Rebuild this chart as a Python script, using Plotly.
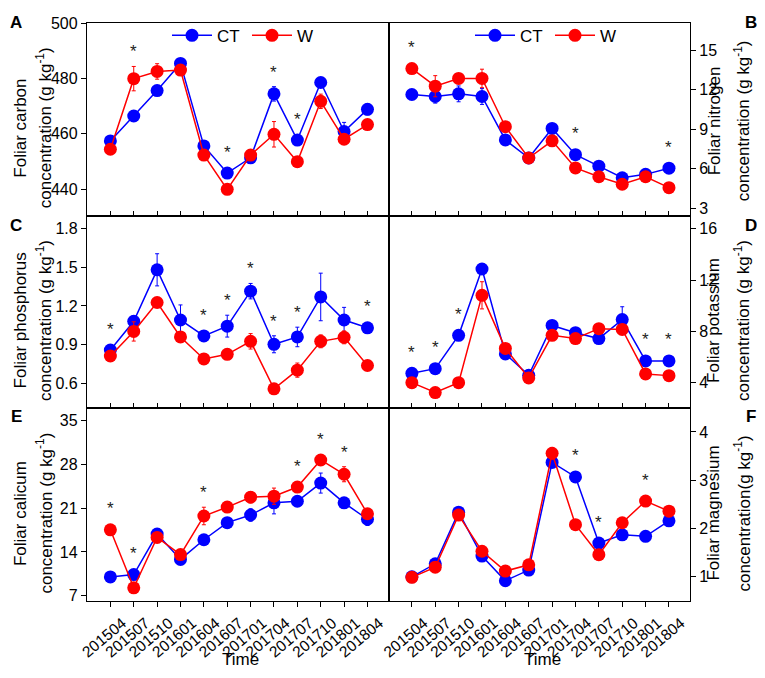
import plotly.graph_objects as go
from plotly.subplots import make_subplots

# ---------------- data ----------------
times = ["201504", "201507", "201510", "201601", "201604", "201607",
         "201701", "201704", "201707", "201710", "201801", "201804"]

carbon_ct = [457.4, 466.4, 475.6, 485.4, 455.6, 445.8, 451.3, 474.4, 457.7, 478.5, 460.8, 468.8]
carbon_ct_err = [1.0, 1.2, 1.5, 1.0, 1.2, 0.8, 1.0, 2.6, 1.0, 1.2, 3.3, 2.0]
carbon_w = [454.4, 479.9, 482.5, 483.0, 452.3, 439.9, 452.3, 459.8, 449.9, 471.7, 458.0, 463.3]
carbon_w_err = [1.0, 4.4, 2.8, 1.2, 1.0, 1.0, 1.0, 4.6, 1.0, 2.6, 1.5, 1.0]
carbon_sig = [1, 5, 7, 8]

nitrogen_ct = [11.63, 11.48, 11.68, 11.48, 8.19, 6.82, 9.06, 7.07, 6.20, 5.32, 5.58, 6.05]
nitrogen_ct_err = [0.2, 0.5, 0.6, 0.6, 0.3, 0.2, 0.2, 0.2, 0.2, 0.2, 0.2, 0.2]
nitrogen_w = [13.60, 12.26, 12.85, 12.85, 9.19, 6.82, 8.12, 6.07, 5.40, 4.83, 5.40, 4.57]
nitrogen_w_err = [0.2, 0.8, 0.3, 0.7, 0.2, 0.3, 0.2, 0.2, 0.2, 0.2, 0.2, 0.2]
nitrogen_sig = [0, 7, 11]

phosphorus_ct = [0.857, 1.081, 1.481, 1.091, 0.967, 1.043, 1.315, 0.902, 0.959, 1.270, 1.091, 1.030]
phosphorus_ct_err = [0.03, 0.04, 0.125, 0.117, 0.03, 0.085, 0.06, 0.066, 0.076, 0.185, 0.098, 0.03]
phosphorus_w = [0.811, 1.002, 1.227, 0.959, 0.788, 0.824, 0.925, 0.556, 0.701, 0.925, 0.956, 0.737]
phosphorus_w_err = [0.02, 0.075, 0.03, 0.03, 0.02, 0.03, 0.06, 0.02, 0.055, 0.05, 0.05, 0.02]
phosphorus_sig = [0, 4, 5, 6, 7, 8, 11]

potassium_ct = [4.73, 5.09, 7.69, 12.86, 6.24, 4.58, 8.46, 7.90, 7.44, 8.92, 5.70, 5.70]
potassium_ct_err = [0.2, 0.2, 0.3, 0.3, 0.3, 0.3, 0.3, 0.2, 0.2, 1.0, 0.2, 0.2]
potassium_w = [4.00, 3.23, 4.00, 10.81, 6.67, 4.37, 7.69, 7.44, 8.21, 8.15, 4.68, 4.55]
potassium_w_err = [0.2, 0.2, 0.2, 1.06, 0.3, 0.3, 0.4, 0.2, 0.2, 0.3, 0.2, 0.2]
potassium_sig = [0, 1, 2, 10, 11]

calcium_ct = [10.00, 10.38, 16.85, 12.80, 15.95, 18.68, 19.90, 21.84, 22.10, 25.00, 21.84, 19.22]
calcium_ct_err = [0.5, 0.5, 0.8, 0.5, 0.5, 0.6, 1.0, 1.76, 0.7, 1.6, 0.8, 1.0]
calcium_w = [17.53, 8.27, 16.32, 13.58, 19.74, 21.16, 22.74, 22.90, 24.36, 28.69, 26.41, 20.10]
calcium_w_err = [0.5, 0.5, 0.8, 0.5, 1.4, 0.8, 0.9, 1.3, 0.6, 0.8, 1.2, 0.6]
calcium_sig = [0, 1, 4, 8, 9, 10]

magnesium_ct = [1.00, 1.27, 2.34, 1.43, 0.92, 1.14, 3.37, 3.07, 1.70, 1.87, 1.84, 2.16]
magnesium_ct_err = [0.05, 0.05, 0.05, 0.05, 0.03, 0.05, 0.10, 0.05, 0.05, 0.05, 0.06, 0.05]
magnesium_w = [0.99, 1.20, 2.28, 1.53, 1.12, 1.25, 3.56, 2.08, 1.46, 2.12, 2.57, 2.36]
magnesium_w_err = [0.04, 0.05, 0.05, 0.05, 0.04, 0.04, 0.12, 0.04, 0.04, 0.04, 0.06, 0.04]
magnesium_sig = [7, 8, 10]

# ---------------- styling ----------------
FONT = "Liberation Sans, Arial, sans-serif"
BLUE = "#0000FF"
RED = "#FF0000"
OFF = 8                      # page body margin of the browser
W_PX, H_PX = 765 - OFF, 678 - OFF
# plot area in page pixels: x 87..690, y 15..601
PX0, PX1, PY0, PY1 = 87, 690, 15, 601
PW = PX1 - PX0
PH = PY1 - PY0
ML, MT = PX0 - OFF, PY0 - OFF
MR, MB = W_PX - (PX1 - OFF), H_PX - (PY1 - OFF)
PANEL_H = PH / 3.0


def px_x(px):
    return (px - PX0) / PW


def px_y(py):
    return 1 - (py - PY0) / PH


panels = [
    (1, 1, "A", carbon_ct, carbon_ct_err, carbon_w, carbon_w_err, carbon_sig,
     [430.4, 500], [440, 460, 480, 500], "Foliar carbon", None),
    (1, 2, "B", nitrogen_ct, nitrogen_ct_err, nitrogen_w, nitrogen_w_err, nitrogen_sig,
     [2.45, 17.05], [3, 6, 9, 12, 15], "Foliar nitrogen", None),
    (2, 1, "C", phosphorus_ct, phosphorus_ct_err, phosphorus_w, phosphorus_w_err, phosphorus_sig,
     [0.404, 1.902], [0.6, 0.9, 1.2, 1.5, 1.8], "Foliar phosphorus", ".1f"),
    (2, 2, "D", potassium_ct, potassium_ct_err, potassium_w, potassium_w_err, potassium_sig,
     [2.0, 17.02], [4, 8, 12, 16], "Foliar potassium", None),
    (3, 1, "E", calcium_ct, calcium_ct_err, calcium_w, calcium_w_err, calcium_sig,
     [6.16, 36.94], [7, 14, 21, 28, 35], "Foliar calicum", None),
    (3, 2, "F", magnesium_ct, magnesium_ct_err, magnesium_w, magnesium_w_err, magnesium_sig,
     [0.5, 4.49], [1, 2, 3, 4], "Foliar magnesium", None),
]

fig = make_subplots(rows=3, cols=2, horizontal_spacing=0, vertical_spacing=0)

annotations = []
for (row, col, letter, ct, cte, w, we, sig, yr, tv, t1, fmt) in panels:
    legend_name = None
    show = False
    if (row, col) == (1, 1):
        legend_name, show = "legend", True
    elif (row, col) == (1, 2):
        legend_name, show = "legend2", True
    for name, vals, errs, color in (("CT", ct, cte, BLUE), ("W", w, we, RED)):
        kw = dict(legend=legend_name) if legend_name else {}
        fig.add_trace(go.Scatter(
            x=times, y=vals, name=name, mode="lines+markers",
            line=dict(color=color, width=1.5),
            marker=dict(color=color, size=13),
            error_y=dict(type="data", array=errs, color=color, thickness=1, width=2),
            showlegend=show, **kw), row=row, col=col)

    idx = (row - 1) * 2 + col
    xref = "x" if idx == 1 else f"x{idx}"
    yref = "y" if idx == 1 else f"y{idx}"
    span = yr[1] - yr[0]
    r_data = 6.5 * span / PANEL_H
    for i in sig:
        top = max(ct[i] + max(cte[i], r_data), w[i] + max(we[i], r_data))
        annotations.append(dict(x=i, y=top, xref=xref, yref=yref, text="*",
                                showarrow=False, yanchor="bottom", yshift=3,
                                font=dict(size=17, color="#222", family=FONT)))

    xa = dict(type="category", range=[-1, 11.9], showline=True, linecolor="black",
              linewidth=1.3, mirror=True, showgrid=False, zeroline=False,
              ticklen=5, tickcolor="black", tickwidth=1.2)
    if row < 3:
        xa.update(ticks="inside", showticklabels=False)
    else:
        xa.update(ticks="outside", tickangle=-40, ticklabelshift=12, ticklabelstandoff=1,
                  tickfont=dict(size=15.5, color="black", family=FONT))
    fig.update_xaxes(row=row, col=col, **xa)

    ya = dict(range=yr, tickvals=tv, showline=True, linecolor="black", linewidth=1.3,
              mirror=True, showgrid=False, zeroline=False, ticks="outside", ticklen=5,
              tickcolor="black", tickwidth=1.2, side="left" if col == 1 else "right",
              tickfont=dict(size=16, color="black", family=FONT))
    if fmt:
        ya["tickformat"] = fmt
    fig.update_yaxes(row=row, col=col, **ya)

    panel_top = PY0 + (row - 1) * PANEL_H
    center_px = panel_top + PANEL_H / 2 + (2 if (row, col) == (1, 2) else 9)
    if col == 1:
        x1, x2, xl = 20.5, 44.0, 16
    else:
        x1, x2, xl = 714.0, 742.0, 751
    annotations.append(dict(x=px_x(x1), y=px_y(center_px), xref="paper", yref="paper", text=t1,
                            textangle=-90, showarrow=False, xanchor="center", yanchor="middle",
                            font=dict(size=17, color="black", family=FONT)))
    annotations.append(dict(x=px_x(x2), y=px_y(center_px), xref="paper", yref="paper",
                            text="concentration" + ("" if letter == "F" else " ") + "(g kg<sup>-1</sup>)",
                            textangle=-90, showarrow=False, xanchor="center", yanchor="middle",
                            font=dict(size=17, color="black", family=FONT)))
    ly = [14, 220, 414][row - 1]
    annotations.append(dict(x=px_x(xl), y=px_y(ly), xref="paper", yref="paper",
                            text=f"<b>{letter}</b>", showarrow=False, xanchor="center",
                            yanchor="middle", font=dict(size=17, color="black", family=FONT)))

for cx in (240.0, 542.0):
    annotations.append(dict(x=px_x(cx), y=px_y(660), xref="paper", yref="paper",
                            text="Time", showarrow=False, xanchor="center", yanchor="middle",
                            font=dict(size=17, color="black", family=FONT)))

legend_common = dict(orientation="h", xanchor="left", yanchor="middle",
                     y=px_y(28), bgcolor="rgba(0,0,0,0)", entrywidth=25, itemwidth=40,
                     font=dict(size=17, color="black", family=FONT))
fig.update_layout(
    width=W_PX, height=H_PX,
    margin=dict(l=ML, r=MR, t=MT, b=MB, pad=0),
    paper_bgcolor="white", plot_bgcolor="white",
    font=dict(family=FONT, size=17, color="black"),
    legend=dict(x=px_x(167), **legend_common),
    legend2=dict(x=px_x(470), **legend_common),
    annotations=annotations,
)

fig.write_html("out.html")
